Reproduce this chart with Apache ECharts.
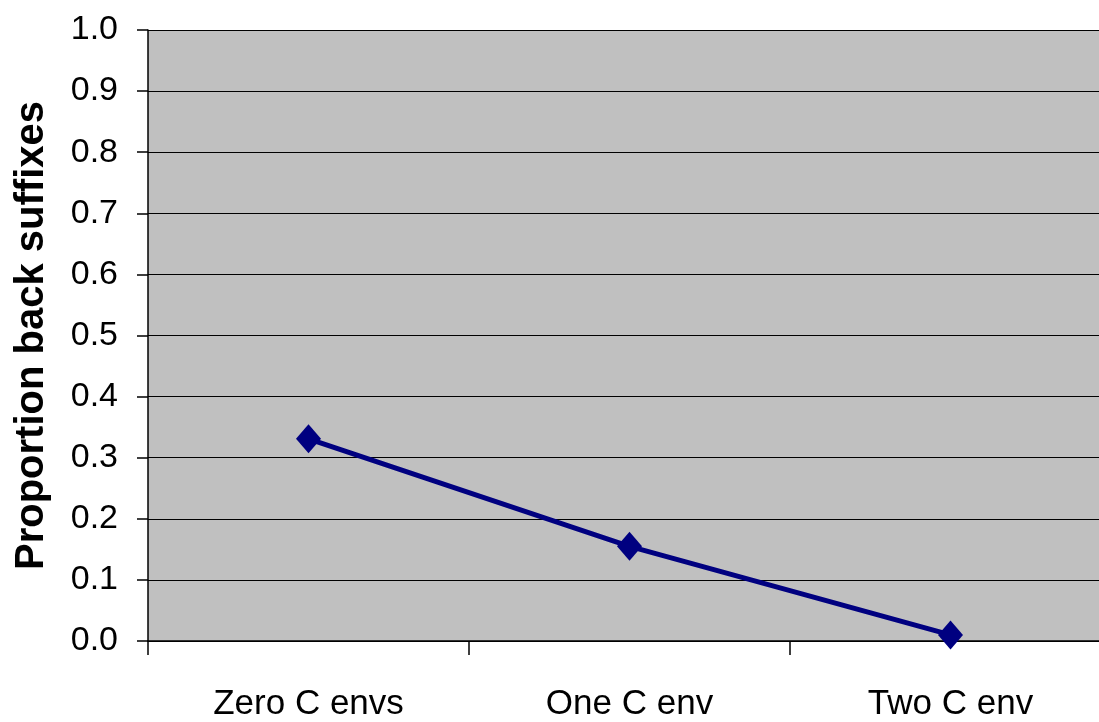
<!DOCTYPE html>
<html>
<head>
<meta charset="utf-8">
<script src="https://cdn.jsdelivr.net/npm/echarts@6/dist/echarts.min.js"></script>
<style>html,body{margin:0;padding:0;background:#fff;overflow:hidden;}#c{width:1111px;height:722px;}</style>
</head>
<body>
<div id="c"></div>
<script>
const categories = ['Zero C envs', 'One C env', 'Two C env'];
const values = [0.331, 0.155, 0.01];
const yTicks = ['0.0','0.1','0.2','0.3','0.4','0.5','0.6','0.7','0.8','0.9','1.0'];
const yTitle = 'Proportion back suffixes';

const chart = echarts.init(document.getElementById('c'));
chart.setOption({
  animation: false,
  grid: { left: 148, top: 30, bottom: 79, right: 0, show: true, backgroundColor: '#c0c0c0', borderWidth: 0 },
  xAxis: {
    type: 'category',
    data: categories,
    boundaryGap: true,
    axisLine: { lineStyle: { color: '#000', width: 1.5 } },
    axisTick: { show: true, length: 14, lineStyle: { color: '#000', width: 1.5 } },
    axisLabel: { color: '#000', fontFamily: 'Liberation Sans', fontSize: 35, margin: 46 }
  },
  yAxis: {
    type: 'value',
    min: 0, max: 1, interval: 0.1,
    name: yTitle,
    nameLocation: 'middle',
    nameGap: 96,
    nameRotate: 90,
    nameTextStyle: { color: '#000', fontFamily: 'Liberation Sans', fontWeight: 'bold', fontSize: 40 },
    axisLine: { show: true, lineStyle: { color: '#000', width: 1.5 } },
    axisTick: { show: true, length: 11, lineStyle: { color: '#000', width: 1.5 } },
    axisLabel: { color: '#000', fontFamily: 'Liberation Sans', fontSize: 34, margin: 30,
      formatter: function (v) { return yTicks[Math.round(v * 10)]; } },
    splitLine: { show: true, lineStyle: { color: '#000', width: 1.2 } }
  },
  series: [{
    type: 'line',
    data: values,
    symbol: 'diamond',
    symbolSize: [25, 29],
    lineStyle: { color: '#000080', width: 5 },
    itemStyle: { color: '#000080' }
  }]
});
</script>
</body>
</html>
